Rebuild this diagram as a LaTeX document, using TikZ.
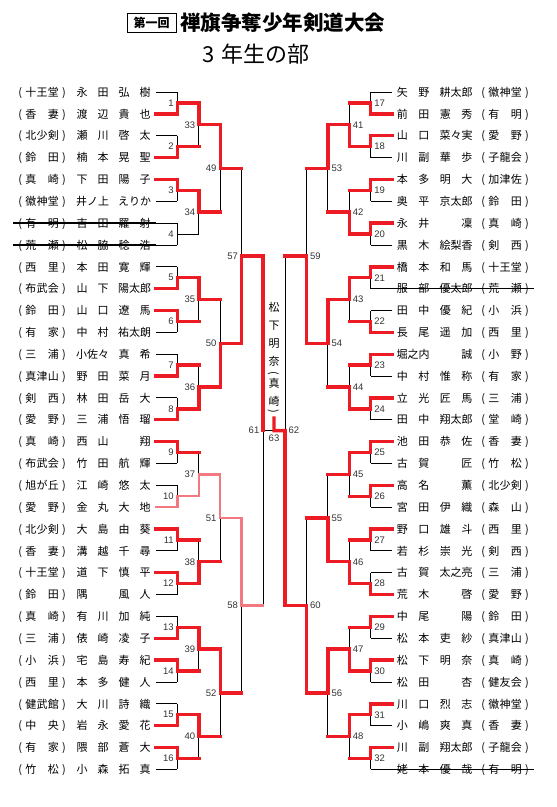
\documentclass[tikz,border=0pt]{standalone}
\usepackage{fontspec}
\setmainfont{Noto Sans CJK JP}
\newfontfamily\numf{Liberation Sans}
\usetikzlibrary{calc}
\pgfdeclarelayer{bg}
\pgfsetlayers{bg,main}
\definecolor{wred}{RGB}{237,28,36}
\definecolor{wpink}{RGB}{242,120,130}
\newlength\colw
\newcommand\kc[1]{\makebox[\colw]{#1}}
\newcommand\ks[1]{\makebox[2\colw]{#1}}
\newcommand\kb[1]{\makebox[11.3pt]{#1}}
\tikzset{
 blk/.style={draw=black, line width=0.9pt},
 rd/.style={draw=wred, line width=3.4pt, line cap=rect},
 pk/.style={draw=wpink, line width=2.4pt, line cap=rect},
 txt/.style={inner sep=0pt, text height=9.6pt, text depth=1.2pt, font=\fontsize{11}{12}\selectfont},
 num/.style={inner sep=0pt, font=\numf\fontsize{9.5}{10}\selectfont, text=black!80},
 strike/.style={draw=black, line width=1.3pt},
}
% bracket match: side, level, index, winner T/B/N, style, label
\newcommand\bm[6]{%
  \pgfmathtruncatemacro\mA{(#3-1)*2^#2+1}%
  \pgfmathtruncatemacro\mH{2^(#2-1)}%
  \pgfmathsetmacro\ty{92+((2*\mA+\mH-1)/2-1)*21.85}%
  \pgfmathsetmacro\by{\ty+\mH*21.85}%
  \pgfmathsetmacro\my{(\ty+\by)/2}%
  \if L#1\pgfmathsetmacro\xv{263-(5-#2)*21.4}\def\dx{-21.4}\else\pgfmathsetmacro\xv{285+(5-#2)*21.4}\def\dx{21.4}\fi
  \pgfmathsetmacro\xp{\xv+\dx}%
  \pgfmathsetmacro\xn{\xv-\dx}%
  \coordinate (#1#2-#3t) at (\xv,\ty);
  \coordinate (#1#2-#3b) at (\xv,\by);
  \coordinate (#1#2-#3m) at (\xv,\my);
  \coordinate (#1#2-#3ti) at (\xp,\ty);
  \coordinate (#1#2-#3bi) at (\xp,\by);
  \coordinate (#1#2-#3o) at (\xn,\my);
  \begin{pgfonlayer}{bg}
    \draw[blk] (#1#2-#3t) -- (#1#2-#3b);
    \ifnum#2=1 \draw[blk] (#1#2-#3ti) -- (#1#2-#3t); \draw[blk] (#1#2-#3bi) -- (#1#2-#3b);\fi
    \ifnum#2<5 \draw[blk] (#1#2-#3m) -- (#1#2-#3o);\fi
  \end{pgfonlayer}
  \if T#4\ifnum#2=1 \draw[#5] (#1#2-#3ti) -- (#1#2-#3t) -- (#1#2-#3m);\else \draw[#5] (#1#2-#3t) -- (#1#2-#3m);\fi\fi
  \if B#4\ifnum#2=1 \draw[#5] (#1#2-#3bi) -- (#1#2-#3b) -- (#1#2-#3m);\else \draw[#5] (#1#2-#3b) -- (#1#2-#3m);\fi\fi
  \if N#4\else\ifnum#2<5 \draw[#5] (#1#2-#3m) -- (#1#2-#3o);\fi\fi
  \if L#1\node[num,anchor=east] (n#6) at ([xshift=-3.5pt]#1#2-#3m) {#6};\else\node[num,anchor=west] (n#6) at ([xshift=3.5pt]#1#2-#3m) {#6};\fi
}
\newcommand\Lp[5]{%
  \node[txt,anchor=west] (lc#1) at (15,{92+(#1-1)*21.85}) {\makebox[10pt]{(}\kb{#2}\kb{#3}\kb{#4}\makebox[10pt]{)}};
  \node[txt,anchor=west] (ln#1) at (71.5,{92+(#1-1)*21.85}) {\setlength\colw{21pt}#5};
}
\newcommand\Rp[5]{%
  \node[txt,anchor=west] (rn#1) at (391.5,{92+(#1-1)*21.85}) {\setlength\colw{21.5pt}#2};
  \node[txt,anchor=west] (rc#1) at (478,{92+(#1-1)*21.85}) {\makebox[10pt]{(}\kb{#3}\kb{#4}\kb{#5}\makebox[10pt]{)}};
}
\begin{document}
\begin{tikzpicture}[x=1pt,y=-1pt]
\path[use as bounding box] (0,0) rectangle (557,807);
% title
\node[draw=black, line width=0.8pt, minimum width=49pt, minimum height=19pt, inner sep=0pt, font=\bfseries\fontsize{12}{13}\selectfont] (t0) at (151.5,22.5) {第一回};
\node[anchor=west, inner sep=0pt, font=\bfseries\fontsize{20.5}{22}\selectfont] (t1) at (180,22.5) {禅旗争奪少年剣道大会};
\node[anchor=west, inner sep=0pt, font=\fontsize{22}{24}\selectfont] (t2) at (202,54) {3\hspace{7pt}年生の部};
% left players
\Lp{1}{十}{王}{堂}{\kc{永}\kc{田}\kc{弘}\kc{樹}}
\Lp{2}{香}{}{妻}{\kc{渡}\kc{辺}\kc{貴}\kc{也}}
\Lp{3}{北}{少}{剣}{\kc{瀬}\kc{川}\kc{啓}\kc{太}}
\Lp{4}{鈴}{}{田}{\kc{楠}\kc{本}\kc{晃}\kc{聖}}
\Lp{5}{真}{}{崎}{\kc{下}\kc{田}\kc{陽}\kc{子}}
\Lp{6}{徽}{神}{堂}{\ks{井ノ上}\ks{えりか}}
\Lp{7}{有}{}{明}{\kc{吉}\kc{田}\kc{羅}\kc{射}}
\Lp{8}{荒}{}{瀬}{\kc{松}\kc{脇}\kc{稔}\kc{浩}}
\Lp{9}{西}{}{里}{\kc{本}\kc{田}\kc{寛}\kc{輝}}
\Lp{10}{布}{武}{会}{\kc{山}\kc{下}\ks{陽太郎}}
\Lp{11}{鈴}{}{田}{\kc{山}\kc{口}\kc{遼}\kc{馬}}
\Lp{12}{有}{}{家}{\kc{中}\kc{村}\ks{祐太朗}}
\Lp{13}{三}{}{浦}{\ks{小佐々}\kc{真}\kc{希}}
\Lp{14}{真}{津}{山}{\kc{野}\kc{田}\kc{菜}\kc{月}}
\Lp{15}{剣}{}{西}{\kc{林}\kc{田}\kc{岳}\kc{大}}
\Lp{16}{愛}{}{野}{\kc{三}\kc{浦}\kc{悟}\kc{瑠}}
\Lp{17}{真}{}{崎}{\kc{西}\kc{山}\kc{}\kc{翔}}
\Lp{18}{布}{武}{会}{\kc{竹}\kc{田}\kc{航}\kc{輝}}
\Lp{19}{旭}{が}{丘}{\kc{江}\kc{崎}\kc{悠}\kc{太}}
\Lp{20}{愛}{}{野}{\kc{金}\kc{丸}\kc{大}\kc{地}}
\Lp{21}{北}{少}{剣}{\kc{大}\kc{島}\kc{由}\kc{葵}}
\Lp{22}{香}{}{妻}{\kc{溝}\kc{越}\kc{千}\kc{尋}}
\Lp{23}{十}{王}{堂}{\kc{道}\kc{下}\kc{慎}\kc{平}}
\Lp{24}{鈴}{}{田}{\kc{隅}\kc{}\kc{風}\kc{人}}
\Lp{25}{真}{}{崎}{\kc{有}\kc{川}\kc{加}\kc{純}}
\Lp{26}{三}{}{浦}{\kc{俵}\kc{崎}\kc{凌}\kc{子}}
\Lp{27}{小}{}{浜}{\kc{宅}\kc{島}\kc{寿}\kc{紀}}
\Lp{28}{西}{}{里}{\kc{本}\kc{多}\kc{健}\kc{人}}
\Lp{29}{健}{武}{館}{\kc{大}\kc{川}\kc{詩}\kc{織}}
\Lp{30}{中}{}{央}{\kc{岩}\kc{永}\kc{愛}\kc{花}}
\Lp{31}{有}{}{家}{\kc{隈}\kc{部}\kc{蒼}\kc{大}}
\Lp{32}{竹}{}{松}{\kc{小}\kc{森}\kc{拓}\kc{真}}
% right players
\Rp{1}{\kc{矢}\kc{野}\ks{耕太郎}}{徽}{神}{堂}
\Rp{2}{\kc{前}\kc{田}\kc{憲}\kc{秀}}{有}{}{明}
\Rp{3}{\kc{山}\kc{口}\ks{菜々実}}{愛}{}{野}
\Rp{4}{\kc{川}\kc{副}\kc{華}\kc{歩}}{子}{龍}{会}
\Rp{5}{\kc{本}\kc{多}\kc{明}\kc{大}}{加}{津}{佐}
\Rp{6}{\kc{奥}\kc{平}\ks{京太郎}}{鈴}{}{田}
\Rp{7}{\kc{永}\kc{井}\kc{}\kc{凜}}{真}{}{崎}
\Rp{8}{\kc{黒}\kc{木}\ks{絵梨香}}{剣}{}{西}
\Rp{9}{\kc{橋}\kc{本}\kc{和}\kc{馬}}{十}{王}{堂}
\Rp{10}{\kc{服}\kc{部}\ks{優太郎}}{荒}{}{瀬}
\Rp{11}{\kc{田}\kc{中}\kc{優}\kc{紀}}{小}{}{浜}
\Rp{12}{\kc{長}\kc{尾}\kc{遥}\kc{加}}{西}{}{里}
\Rp{13}{\ks{堀之内}\kc{}\kc{誠}}{小}{}{野}
\Rp{14}{\kc{中}\kc{村}\kc{惟}\kc{称}}{有}{}{家}
\Rp{15}{\kc{立}\kc{光}\kc{匠}\kc{馬}}{三}{}{浦}
\Rp{16}{\kc{田}\kc{中}\ks{翔太郎}}{堂}{}{崎}
\Rp{17}{\kc{池}\kc{田}\kc{恭}\kc{佐}}{香}{}{妻}
\Rp{18}{\kc{古}\kc{賀}\kc{}\kc{匠}}{竹}{}{松}
\Rp{19}{\kc{高}\kc{名}\kc{}\kc{薫}}{北}{少}{剣}
\Rp{20}{\kc{宮}\kc{田}\kc{伊}\kc{織}}{森}{}{山}
\Rp{21}{\kc{野}\kc{口}\kc{雄}\kc{斗}}{西}{}{里}
\Rp{22}{\kc{若}\kc{杉}\kc{崇}\kc{光}}{剣}{}{西}
\Rp{23}{\kc{古}\kc{賀}\ks{太之亮}}{三}{}{浦}
\Rp{24}{\kc{荒}\kc{木}\kc{}\kc{啓}}{愛}{}{野}
\Rp{25}{\kc{中}\kc{尾}\kc{}\kc{陽}}{鈴}{}{田}
\Rp{26}{\kc{松}\kc{本}\kc{吏}\kc{紗}}{真}{津}{山}
\Rp{27}{\kc{松}\kc{下}\kc{明}\kc{奈}}{真}{}{崎}
\Rp{28}{\kc{松}\kc{田}\kc{}\kc{杏}}{健}{友}{会}
\Rp{29}{\kc{川}\kc{口}\kc{烈}\kc{志}}{徽}{神}{堂}
\Rp{30}{\kc{小}\kc{嶋}\kc{爽}\kc{真}}{香}{}{妻}
\Rp{31}{\kc{川}\kc{副}\ks{翔太郎}}{子}{龍}{会}
\Rp{32}{\kc{姥}\kc{本}\kc{優}\kc{哉}}{有}{}{明}
% brackets left
\foreach \w/\s [count=\j] in {B/rd,B/rd,T/rd,N/rd,B/rd,T/rd,B/rd,B/rd,T/rd,B/pk,T/rd,T/rd,B/rd,T/rd,B/rd,T/rd}
  {\bm{L}{1}{\j}{\w}{\s}{\j}}
\foreach \w/\s [count=\j] in {T/rd,T/rd,T/rd,B/rd,B/pk,B/rd,T/rd,T/rd}
  {\pgfmathtruncatemacro\lab{\j+32}\bm{L}{2}{\j}{\w}{\s}{\lab}}
\foreach \w/\s [count=\j] in {T/rd,B/rd,T/pk,T/rd}
  {\pgfmathtruncatemacro\lab{\j+48}\bm{L}{3}{\j}{\w}{\s}{\lab}}
\foreach \w/\s [count=\j] in {B/rd,T/pk}
  {\pgfmathtruncatemacro\lab{\j+56}\bm{L}{4}{\j}{\w}{\s}{\lab}}
\bm{L}{5}{1}{T}{rd}{61}
% brackets right
\foreach \w/\s [count=\j] in {B/rd,T/rd,T/rd,T/rd,T/rd,B/rd,T/rd,T/rd,T/rd,T/rd,T/rd,B/rd,T/rd,T/rd,T/rd,T/rd}
  {\pgfmathtruncatemacro\lab{\j+16}\bm{R}{1}{\j}{\w}{\s}{\lab}}
\foreach \w/\s [count=\j] in {B/rd,B/rd,T/rd,B/rd,T/rd,B/rd,B/rd,T/rd}
  {\pgfmathtruncatemacro\lab{\j+40}\bm{R}{2}{\j}{\w}{\s}{\lab}}
\foreach \w/\s [count=\j] in {T/rd,T/rd,B/rd,T/rd}
  {\pgfmathtruncatemacro\lab{\j+52}\bm{R}{3}{\j}{\w}{\s}{\lab}}
\foreach \w/\s [count=\j] in {B/rd,B/rd}
  {\pgfmathtruncatemacro\lab{\j+58}\bm{R}{4}{\j}{\w}{\s}{\lab}}
\bm{R}{5}{1}{B}{rd}{62}
% final
\coordinate (fC) at ($(L5-1m)!0.5!(R5-1m)$);
\coordinate (fT) at ([yshift=12.5pt]fC);
\begin{pgfonlayer}{bg}
\draw[blk] (L5-1m) -- (R5-1m);
\end{pgfonlayer}
\draw[rd] (R5-1m) -- (fC) -- (fT);
\node[num] (n63) at ([yshift=-8pt]fC) {63};
% champion
\foreach \c/\yy [count=\k] in {松/307.7,下/325.7,明/343.3,奈/361}
  {\node[txt] (ch\k) at (274,\yy) {\c};}
\node[txt,rotate=-90] (ch5) at (274,373.5) {(};
\node[txt] (ch6) at (274,383.5) {真};
\node[txt] (ch7) at (274,401) {崎};
\node[txt,rotate=-90] (ch8) at (274,411.5) {)};
% strikes
\draw[strike] ([xshift=-2pt]lc7.west) -- (L1-4ti);
\draw[strike] ([xshift=-2pt]lc8.west) -- (L1-4bi);
\draw[strike] (R1-5bi) -- ([xshift=2pt]rc10.east);
\draw[strike] (R1-16bi) -- ([xshift=2pt]rc32.east);
\end{tikzpicture}
\end{document}
